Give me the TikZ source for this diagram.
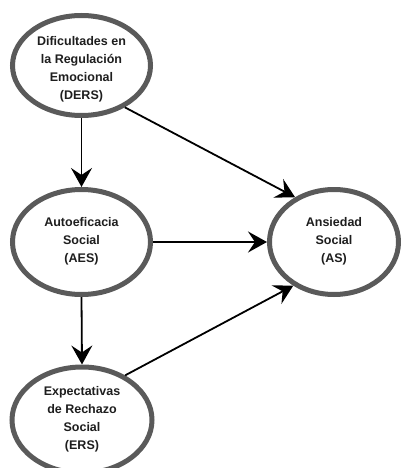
\documentclass[tikz,border=0pt]{standalone}
\usepackage{fontspec}
\setmainfont{Liberation Sans}
\usetikzlibrary{shapes.geometric,arrows.meta}
\definecolor{ringgray}{HTML}{5A5A5A}
\definecolor{txt}{HTML}{1E1E1E}
\begin{document}
\begin{tikzpicture}[x=1pt,y=-1pt,
  ring/.style={ellipse, draw=ringgray, line width=5pt, fill=white, inner sep=0pt},
  lab/.style={font=\fontsize{12.5}{18}\selectfont\bfseries, text=txt, align=center, inner sep=0pt},
  conn/.style={line width=1.8pt, -{Stealth[length=19pt,width=21pt,inset=7pt]}}]
\useasboundingbox (0,0) rectangle (401,468);
\begin{scope}
\clip (0,0) rectangle (401,468);
\node[ring, minimum width=138pt, minimum height=100pt] (ders) at (81.5,65.5) {};
\node[lab] (dersT) at (81.5,69.5) {Dificultades en\\la Regulación\\Emocional\\(DERS)};
\node[ring, minimum width=138pt, minimum height=105pt] (aes) at (81.5,242) {};
\node[lab] (aesT) at (81.5,241.5) {Autoeficacia\\Social\\(AES)};
\node[ring, minimum width=129pt, minimum height=105pt] (as) at (334,242) {};
\node[lab] (asT) at (334,241.5) {Ansiedad\\Social\\(AS)};
\node[ring, minimum width=140pt, minimum height=106pt] (ers) at (82,420) {};
\node[lab] (ersT) at (82,419.5) {Expectativas\\de Rechazo\\Social\\(ERS)};
\draw[conn] (ders.south) -- (aes.north);
\draw[conn] (ders.-44) -- (as.131);
\draw[conn] (aes.east) -- (as.west);
\draw[conn] (aes.south) -- (ers.north);
\draw[conn] (ers.46) -- (as.-133);
\end{scope}
\end{tikzpicture}
\end{document}
